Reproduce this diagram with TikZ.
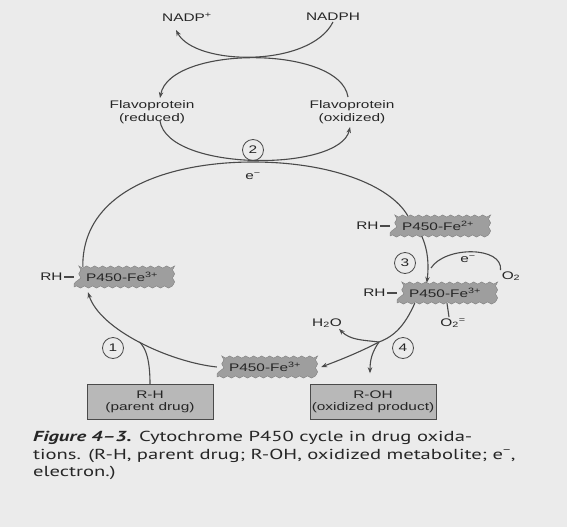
\documentclass[tikz,border=0pt]{standalone}
\usepackage{fontspec}
\newfontfamily\lblfont{Liberation Sans}[FakeStretch=1.4]
\newfontfamily\capfont{PT Sans}[FakeStretch=1.42]
\usetikzlibrary{positioning,arrows.meta,decorations.pathmorphing}
\definecolor{pagebg}{HTML}{EBEBEB}
\definecolor{linec}{HTML}{4A4A4A}
\definecolor{cloudc}{HTML}{9E9E9E}
\definecolor{boxc}{HTML}{B8B8B8}
\definecolor{inkc}{HTML}{262626}
\begin{document}
\begin{tikzpicture}[x=1pt,y=-1pt,>={Stealth[length=6pt,width=4.5pt]},
    lbl/.style={font=\lblfont\fontsize{11}{12.5}\selectfont, text=inkc, inner sep=1pt, align=center},
    wavy/.style={lbl, draw=linec!70, fill=cloudc, minimum width=96pt, minimum height=20pt,
      decorate, decoration={snake, segment length=8pt, amplitude=1.1pt}},
    drugbox/.style={lbl, draw=linec, fill=boxc, minimum width=126pt, minimum height=35pt},
    num/.style={lbl, circle, draw=linec, thick, minimum size=21pt, inner sep=0pt},
    captxt/.style={font=\capfont\fontsize{14.5}{17}\selectfont, text=inkc, inner sep=0pt, anchor=base west}]
  \fill[pagebg] (0,0) rectangle (567,527);
  \useasboundingbox (0,0) rectangle (567,527);
  \node[lbl] (nadpp) at (187,17) {NADP\textsuperscript{+}};
  \node[lbl] (nadph) at (333,17) {NADPH};
  \node[lbl] (flred) at (152,112) {Flavoprotein\\(reduced)};
  \node[lbl] (floxi) at (352,112) {Flavoprotein\\(oxidized)};
  \node[num] (n2) at (253,150) {2};
  \node[lbl] (em) at (253,176) {e\textsuperscript{−}};
  \node[wavy] (fel) at (122,277) {P450-Fe\textsuperscript{3+}};
  \node[lbl, left=10pt of fel] (rhl) {RH};
  \node[wavy] (fe2) at (438,226) {P450-Fe\textsuperscript{2+}};
  \node[lbl, left=10pt of fe2] (rh2) {RH};
  \node[num] (n3) at (405,263) {3};
  \node[lbl] (etop) at (468,259) {e\textsuperscript{−}};
  \node[lbl] (o2) at (511,276) {O\textsubscript{2}};
  \node[wavy] (fer) at (445,293) {P450-Fe\textsuperscript{3+}};
  \node[lbl, left=10pt of fer] (rhr) {RH};
  \node[lbl] (o2m) at (453,323) {O\textsubscript{2}\textsuperscript{=}};
  \node[lbl] (h2o) at (327,323) {H\textsubscript{2}O};
  \node[num] (n4) at (403,348) {4};
  \node[wavy] (feb) at (265,367) {P450-Fe\textsuperscript{3+}};
  \node[num] (n1) at (113,348) {1};
  \node[drugbox] (rhbox) at (150,402) {R-H\\(parent drug)};
  \node[drugbox] (rohbox) at (373,402) {R-OH\\(oxidized product)};
  \coordinate (br) at (379,342);
  \begin{scope}[draw=linec, line width=1.1pt]
    \draw[->] (nadph.south) .. controls (310,68) and (195,66) .. (176,30);
    \draw[->] (348,97) .. controls (340,45) and (170,45) .. (160,98);
    \draw[->] (160,121) .. controls (168,172) and (340,172) .. (350,127);
    \draw ([xshift=9pt]fel.north west) .. controls (82,190) and (170,162) .. (253,162)
      .. controls (330,162) and (390,185) .. ([xshift=18pt]fe2.north west);
    \draw (rhl) -- (fel);
    \draw (rh2) -- (fe2);
    \draw (rhr) -- (fer);
    \draw[->] ([xshift=32pt]fe2.south west) .. controls (428,250) and (429,265) .. ([xshift=30pt]fer.north west);
    \draw (o2.north west) .. controls (503,246) and (445,246) .. (431,268);
    \draw ([xshift=2pt]fer.south) -- ([xshift=-4pt]o2m.north);
    \draw[->] ([xshift=18pt]fer.south west) .. controls (405,325) and (395,336) .. (br)
      .. controls (360,352) and (340,360) .. ([xshift=8pt]feb.east);
    \draw[->] (br) .. controls (362,340) and (350,340) .. ([xshift=-4pt]h2o.south east);
    \draw[->] (br) .. controls (372,352) and (370,360) .. ([xshift=-3pt,yshift=11pt]rohbox.north);
    \draw[->] (feb.west) .. controls (170,362) and (100,330) .. ([xshift=-34pt,yshift=-5pt]fel.south)
      coordinate[pos=0.5] (j1);
    \draw (rhbox.north) .. controls (150,360) and (146,348) .. (j1);
  \end{scope}
  \node[captxt] (cap1) at (33,441) {\textbf{\textit{Figure 4–3.}}\enspace Cytochrome P450 cycle in drug oxida-};
  \node[captxt] (cap2) at (33,459) {tions. (R-H, parent drug; R-OH, oxidized metabolite; e\textsuperscript{−},};
  \node[captxt] (cap3) at (33,476) {electron.)};
\end{tikzpicture}
\end{document}
